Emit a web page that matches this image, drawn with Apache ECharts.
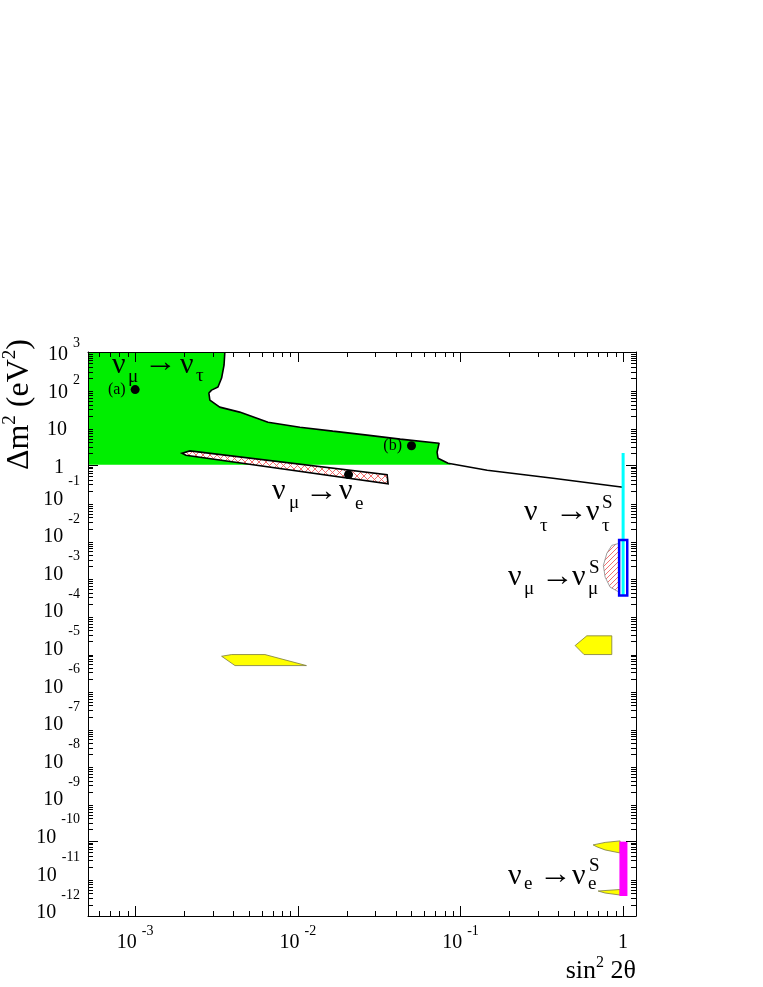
<!DOCTYPE html>
<html>
<head>
<meta charset="utf-8">
<script src="https://cdn.jsdelivr.net/npm/echarts@6/dist/echarts.min.js"></script>
<style>
  html, body { margin: 0; background: #fff; }
  #chart { width: 763px; height: 987px; }
</style>
</head>
<body>
<div id="chart"></div>
<script>
const serif = '"Liberation Serif", "DejaVu Serif", serif';

// axis ranges: sin^2 2theta (x) and delta m^2 in eV^2 (y)
const xRange = [5.13e-4, 1.2];
const yRange = [1e-12, 1e3];
const minorSteps = [2, 3, 4, 5, 6, 7, 8, 9];
const yLabelExps = [3, 2, 1, 0, -1, -2, -3, -4, -5, -6, -7, -8, -9, -10, -11, -12];

// nu_mu -> nu_tau exclusion contour
const numuNutauBoundary = [
  [3.56e-3, 1000], [3.52e-3, 451], [3.40e-3, 203], [3.23e-3, 117], [2.95e-3, 97],
  [2.84e-3, 81], [2.88e-3, 52.6], [3.31e-3, 34.2], [4.39e-3, 25.2], [6.56e-3, 13.6],
  [1.03e-2, 10], [1.64e-2, 7.85], [2.67e-2, 6.14], [4.26e-2, 4.81], [7.39e-2, 3.76],
  [7.18e-2, 2.16], [7.28e-2, 1.50], [8.39e-2, 1.10], [0.146, 0.718], [0.371, 0.44], [1, 0.253]
];
// green area: the part of the contour above delta m^2 = 1
const numuNutauArea = [
  [xRange[0], 1], [xRange[0], 1000]
].concat(numuNutauBoundary.slice(0, 18), [[0.088, 1]]);

// nu_mu -> nu_e band (cross hatched)
const numuNueBand = [[1.94e-3, 2.04], [2.17e-3, 2.34], [3.54e-2, 0.545], [3.59e-2, 0.313], [2.05e-3, 1.80]];

// marked points
const markedPoints = [
  { name: '(a)', value: [1e-3, 100] },
  { name: '(b)', value: [0.05, 3.2] },
  { name: '', value: [0.0205, 0.55] }
];

// solar regions (yellow)
const solarSmallAngle = [[3.40e-3, 8.09e-6], [3.92e-3, 8.98e-6], [6.28e-3, 8.98e-6], [1.13e-2, 4.57e-6], [4.11e-3, 4.57e-6]];
const solarLargeAngle = [[0.507, 1.56e-5], [0.598, 2.83e-5], [0.852, 2.83e-5], [0.852, 8.98e-6], [0.575, 8.98e-6]];
const vacuumUpper = [[0.654, 7.78e-11], [0.775, 9.06e-11], [0.958, 9.93e-11], [0.958, 4.75e-11], [0.775, 5.71e-11], [0.692, 6.87e-11]];
const vacuumLower = [[0.702, 4.62e-12], [0.958, 5.07e-12], [0.958, 3.61e-12], [0.775, 4.08e-12]];

// atmospheric region (single hatch)
const atmosphericArea = [[0.945, 8.15e-3], [0.852, 7.2e-3], [0.794, 4.4e-3], [0.756, 2.11e-3], [0.775, 1.03e-3], [0.832, 5.57e-4], [0.945, 4.1e-4]];

// sterile solutions at maximal mixing
const nutauSterile = [[1, 2.07], [1, 3.35e-4]];
const numuSterile = [[0.945, 1.0e-2], [1.06, 1.0e-2], [1.06, 3.35e-4], [0.945, 3.35e-4]];
const nueSterile = [[0.949, 9.5e-11], [1.063, 9.5e-11], [1.063, 3.4e-12], [0.949, 3.4e-12]];

// minor tick values
function minorTicks(range) {
  const out = [];
  for (let k = Math.floor(Math.log10(range[0])); k <= Math.ceil(Math.log10(range[1])); k++) {
    minorSteps.forEach(m => {
      const v = m * Math.pow(10, k);
      if (v > range[0] && v < range[1]) out.push(v);
    });
  }
  return out;
}
const xMinor = minorTicks(xRange);
const yMinor = minorTicks(yRange);

function hatch(cross) {
  const c = document.createElement('canvas');
  const n = cross ? 7 : 5;
  c.width = c.height = n;
  const g = c.getContext('2d');
  g.fillStyle = '#fff';
  g.fillRect(0, 0, n, n);
  g.strokeStyle = '#f26060';
  g.lineWidth = 0.9;
  g.beginPath();
  g.moveTo(0, n); g.lineTo(n, 0);
  if (cross) { g.moveTo(0, 0); g.lineTo(n, n); }
  g.stroke();
  return c;
}

function polygon(points, style) {
  return {
    type: 'custom',
    coordinateSystem: 'cartesian2d',
    data: [points[0]],
    clip: true,
    silent: true,
    renderItem: (params, api) => ({
      type: 'polygon',
      shape: { points: points.map(p => api.coord(p)) },
      style: style
    })
  };
}

function expOf(v) {
  const l = Math.log10(v);
  const e = Math.round(l);
  return Math.abs(l - e) < 1e-6 ? e : null;
}

// positive exponents sit a little lower than negative ones, as in the original
const yLabelRich = {
  bp: { fontFamily: serif, fontSize: 20, lineHeight: 38, fill: '#000' },
  bn: { fontFamily: serif, fontSize: 20, lineHeight: 50, fill: '#000' },
  e: { fontFamily: serif, fontSize: 14, lineHeight: 14, verticalAlign: 'top', padding: [0, 0, 0, 5], fill: '#000' },
  p10: { fontFamily: serif, fontSize: 20, lineHeight: 38, padding: [0, 13, 0, 0], fill: '#000' },
  p1: { fontFamily: serif, fontSize: 20, lineHeight: 38, padding: [0, 16, 0, 0], fill: '#000' }
};
const xLabelRich = {
  b: { fontFamily: serif, fontSize: 20, lineHeight: 38, color: '#000' },
  e: { fontFamily: serif, fontSize: 14, lineHeight: 14, verticalAlign: 'top', padding: [0, 0, 0, 5], color: '#000' }
};
const xNameRich = {
  t: { fontFamily: serif, fontSize: 26, lineHeight: 32, color: '#000' },
  s: { fontFamily: serif, fontSize: 16, lineHeight: 16, verticalAlign: 'top', color: '#000' }
};
const yNameRich = {
  t: { fontFamily: serif, fontSize: 32, lineHeight: 38, color: '#000' },
  s: { fontFamily: serif, fontSize: 19, lineHeight: 19, verticalAlign: 'top', color: '#000' }
};

const frameAxis = {
  z: 10,
  axisLine: { show: true, lineStyle: { color: '#000', width: 1 } },
  axisTick: { show: true, inside: true, length: 10, lineStyle: { color: '#000' } },
  splitLine: { show: false }
};

// text labels of the transitions: [x, y, text, size]
const textLayout = [
  [[112, 365, 'ν', 30], [128, 377, 'μ', 19], [144, 363, '→', 30], [180, 365, 'ν', 30], [196, 376, 'τ', 19]],
  [[272, 491, 'ν', 30], [289, 503, 'μ', 19], [305, 492, '→', 30], [339, 491, 'ν', 30], [355, 504, 'e', 19]],
  [[524, 512, 'ν', 30], [540, 526, 'τ', 19], [555, 512, '→', 30], [586, 512, 'ν', 30], [602, 503, 'S', 19], [602, 526, 'τ', 19]],
  [[508, 577, 'ν', 30], [524, 589, 'μ', 19], [541, 577, '→', 30], [572, 577, 'ν', 30], [589, 568, 'S', 19], [588, 589, 'μ', 19]],
  [[508, 876, 'ν', 30], [524, 884, 'e', 19], [539, 875, '→', 30], [572, 876, 'ν', 30], [589, 866, 'S', 19], [588, 884, 'e', 19]]
];
const textElements = [];
textLayout.forEach(group => group.forEach(([x, y, t, s]) => {
  textElements.push({
    type: 'text', x: x, y: y, z: 100,
    scaleX: t === '→' ? 1.1 : 1,
    style: { text: t, font: s + 'px ' + serif, fill: '#000', textAlign: 'left', textVerticalAlign: 'middle', verticalAlign: 'middle' }
  });
}));

const chart = echarts.init(document.getElementById('chart'));
chart.setOption({
  animation: false,
  backgroundColor: '#fff',
  grid: { left: 88, top: 352, right: 127, bottom: 71 },
  xAxis: [
    Object.assign({}, frameAxis, {
      type: 'log', min: xRange[0], max: xRange[1], position: 'bottom',
      name: '{t|sin}{s|2}{t| 2θ}', nameLocation: 'end', nameGap: 0,
      nameTextStyle: { align: 'right', verticalAlign: 'top', padding: [39, 0, 0, 0], rich: xNameRich },
      axisLabel: {
        margin: 8, hideOverlap: false, showMinLabel: false, showMaxLabel: false, rich: xLabelRich,
        formatter: v => {
          const e = expOf(v);
          if (e === null) return '';
          return e === 0 ? '{b|1}' : '{b|10}{e|' + e + '}';
        }
      }
    }),
    Object.assign({}, frameAxis, {
      type: 'log', min: xRange[0], max: xRange[1], position: 'top', axisLabel: { show: false }
    })
  ],
  yAxis: [
    Object.assign({}, frameAxis, {
      type: 'log', min: yRange[0], max: yRange[1], splitNumber: 15, position: 'left',
      name: '{t|Δm}{s|2}{t| (eV}{s|2}{t|)}', nameLocation: 'end', nameGap: 13, nameRotate: 90,
      nameTextStyle: { align: 'right', verticalAlign: 'bottom', padding: [0, 0, 49, 0], rich: yNameRich },
      axisLabel: { show: false }
    }),
    Object.assign({}, frameAxis, {
      type: 'log', min: yRange[0], max: yRange[1], splitNumber: 15, position: 'right', axisLabel: { show: false }
    })
  ],
  graphic: { elements: textElements },
  series: [
    polygon(numuNutauArea, { fill: '#00ee00' }),
    {
      type: 'line', data: numuNutauBoundary, showSymbol: false, silent: true,
      lineStyle: { color: '#000', width: 1.6 }, z: 3
    },
    Object.assign(polygon(numuNueBand, { fill: { image: hatch(true), repeat: 'repeat' }, stroke: '#000', lineWidth: 1.6 }), { z: 4 }),
    Object.assign(polygon(solarSmallAngle, { fill: '#ffff00', stroke: '#7a7a40', lineWidth: 0.8 }), { z: 4 }),
    Object.assign(polygon(solarLargeAngle, { fill: '#ffff00', stroke: '#7a7a40', lineWidth: 0.8 }), { z: 4 }),
    Object.assign(polygon(vacuumUpper, { fill: '#ffff00', stroke: '#7a7a40', lineWidth: 0.8 }), { z: 4 }),
    Object.assign(polygon(vacuumLower, { fill: '#ffff00', stroke: '#7a7a40', lineWidth: 0.8 }), { z: 4 }),
    Object.assign(polygon(atmosphericArea, { fill: { image: hatch(false), repeat: 'repeat' }, stroke: '#888', lineWidth: 0.8 }), { z: 4 }),
    {
      type: 'line', data: nutauSterile, showSymbol: false, silent: true,
      lineStyle: { color: '#00ffff', width: 3 }, z: 5
    },
    Object.assign(polygon(numuSterile, { fill: 'none', stroke: '#0000ff', lineWidth: 2.5 }), { z: 6 }),
    Object.assign(polygon(nueSterile, { fill: '#ff00ff' }), { z: 6 }),
    {
      type: 'scatter', data: markedPoints, symbolSize: 9, silent: true, z: 7,
      itemStyle: { color: '#000', opacity: 1 },
      label: { show: true, position: 'left', distance: 5, formatter: '{b}', fontFamily: serif, fontSize: 16, color: '#000' }
    },
    {
      // minor ticks on all four sides
      type: 'custom', coordinateSystem: 'cartesian2d', data: [[1e-2, 1]], silent: true, z: 11,
      renderItem: (params, api) => {
        const cs = params.coordSys;
        const st = { stroke: '#000', lineWidth: 1 };
        const kids = [];
        xMinor.forEach(v => {
          const x = Math.round(api.coord([v, 1])[0]) + 0.5;
          kids.push({ type: 'line', shape: { x1: x, y1: cs.y + cs.height, x2: x, y2: cs.y + cs.height - 5 }, style: st });
          kids.push({ type: 'line', shape: { x1: x, y1: cs.y, x2: x, y2: cs.y + 5 }, style: st });
        });
        yMinor.forEach(v => {
          const y = Math.round(api.coord([1e-2, v])[1]) + 0.5;
          kids.push({ type: 'line', shape: { x1: cs.x, y1: y, x2: cs.x + 5, y2: y }, style: st });
          kids.push({ type: 'line', shape: { x1: cs.x + cs.width, y1: y, x2: cs.x + cs.width - 5, y2: y }, style: st });
        });
        return { type: 'group', children: kids };
      }
    },
    {
      // y tick labels, one per decade
      type: 'custom', coordinateSystem: 'cartesian2d', silent: true, z: 12, clip: false,
      data: yLabelExps.map(e => [xRange[0], Math.pow(10, e)]),
      renderItem: (params, api) => {
        const p = api.coord([api.value(0), api.value(1)]);
        const e = yLabelExps[params.dataIndex];
        let text;
        if (e === 0) text = '{p1|1}';
        else if (e === 1) text = '{p10|10}';
        else text = (e > 0 ? '{bp|10}' : '{bn|10}') + '{e|' + e + '}';
        return {
          type: 'text', x: p[0] - 8, y: p[1] + (e >= 0 ? 3 : -3),
          style: { text: text, rich: yLabelRich, fill: '#000', align: 'right', verticalAlign: 'middle', textAlign: 'right', textVerticalAlign: 'middle' }
        };
      }
    }
  ]
});
</script>
</body>
</html>
